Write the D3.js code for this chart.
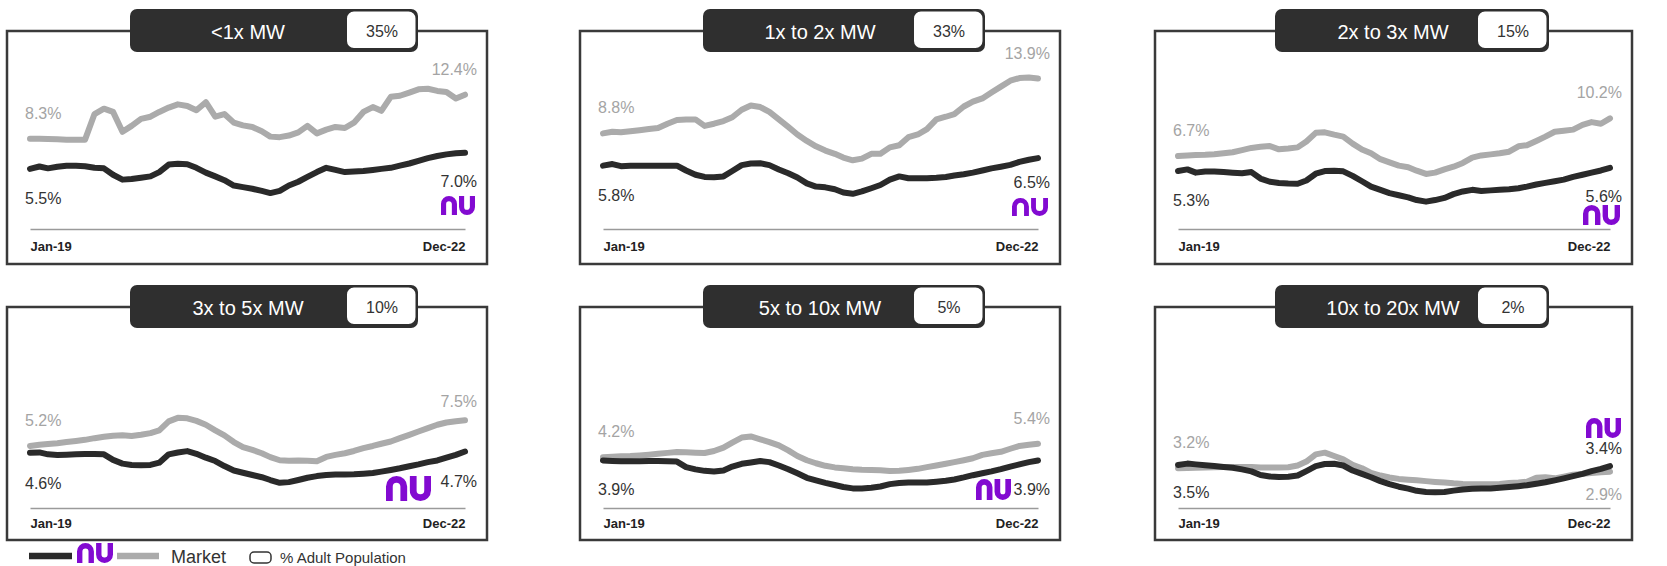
<!DOCTYPE html>
<html><head><meta charset="utf-8">
<script src="https://cdnjs.cloudflare.com/ajax/libs/d3/7.8.5/d3.min.js"></script>
<style>html,body{margin:0;padding:0;background:#fff;} svg{display:block;}</style>
</head><body><div id="chart"></div>
<script>
// ---------------- DATA ----------------
const months = d3.range(48).map(i => new Date(2019, i, 1)); // Jan-19 .. Dec-22
const tickLabels = ["Jan-19", "Dec-22"];
const panelTitles = ["<1x MW", "1x to 2x MW", "2x to 3x MW", "3x to 5x MW", "5x to 10x MW", "10x to 20x MW"];
const adultPopShare = ["35%", "33%", "15%", "10%", "5%", "2%"];

const nuUnder1 = [5.5,5.72,5.55,5.7,5.8,5.8,5.75,5.6,5.55,4.95, 4.5,4.55,4.68,4.8,5.2,5.9,5.97,5.93,5.6,5.15, 4.8,4.45,3.95,3.8,3.65,3.45,3.25,3.45,3.95,4.3, 4.75,5.2,5.6,5.4,5.2,5.25,5.3,5.4,5.5,5.6, 5.8,6.0,6.25,6.5,6.7,6.85,6.95,7.0];
const marketUnder1 = [8.3,8.3,8.28,8.25,8.22,8.22,8.22,10.6,11.1,10.8, 8.95,9.5,10.15,10.35,10.8,11.2,11.5,11.35,10.95,11.7, 10.35,10.6,9.8,9.55,9.4,9.0,8.5,8.45,8.6,8.9, 9.5,8.8,9.15,9.4,9.3,9.8,10.8,11.25,10.9,12.2, 12.3,12.6,12.9,12.95,12.75,12.65,12.05,12.4];

const nu1to2 = [5.8,5.95,5.75,5.8,5.78,5.78,5.78,5.8,5.8,5.35, 4.95,4.75,4.72,4.8,5.3,5.85,6.0,6.02,5.85,5.45, 5.1,4.7,4.15,3.85,3.78,3.6,3.3,3.18,3.4,3.7, 4.0,4.5,4.8,4.63,4.63,4.63,4.68,4.75,4.88,5.0, 5.15,5.35,5.55,5.7,5.87,6.15,6.35,6.5];
const market1to2 = [8.8,8.95,8.9,9.0,9.1,9.2,9.3,9.7,10.05,10.1, 10.1,9.5,9.7,9.95,10.3,11.0,11.4,11.25,10.8,10.1, 9.4,8.7,8.1,7.6,7.2,6.9,6.55,6.3,6.45,6.9, 6.9,7.5,7.7,8.45,8.7,9.2,10.1,10.35,10.6,11.3, 11.75,12.05,12.6,13.15,13.7,13.95,14.0,13.9];

const nu2to3 = [5.3,5.45,5.15,5.25,5.25,5.2,5.15,5.1,5.2,4.6, 4.3,4.18,4.13,4.12,4.42,5.05,5.3,5.33,5.27,4.85, 4.35,3.85,3.55,3.25,3.05,2.85,2.6,2.45,2.6,2.8, 3.15,3.4,3.55,3.45,3.5,3.55,3.6,3.7,3.85,4.05, 4.2,4.35,4.5,4.75,4.95,5.15,5.35,5.6];
const market2to3 = [6.7,6.75,6.8,6.82,6.86,6.95,7.05,7.25,7.45,7.55, 7.62,7.32,7.4,7.5,8.05,8.85,8.9,8.68,8.5,7.85, 7.3,6.95,6.4,6.1,5.8,5.65,5.33,5.03,5.15,5.45, 5.7,6.05,6.55,6.75,6.85,6.95,7.1,7.6,7.7,8.1, 8.5,8.95,9.05,9.15,9.6,9.85,9.7,10.2];

const nu3to5 = [4.6,4.62,4.45,4.4,4.42,4.45,4.48,4.48,4.45,3.95, 3.62,3.5,3.47,3.5,3.7,4.45,4.62,4.74,4.5,4.15, 3.85,3.4,3.0,2.8,2.6,2.4,2.15,1.9,1.96,2.15, 2.35,2.5,2.6,2.65,2.65,2.67,2.72,2.78,2.9,3.05, 3.2,3.38,3.55,3.75,3.9,4.15,4.4,4.7];
const market3to5 = [5.2,5.3,5.38,5.45,5.55,5.65,5.75,5.9,6.02,6.12, 6.15,6.1,6.2,6.35,6.6,7.4,7.72,7.68,7.45,7.1, 6.6,6.15,5.55,5.1,4.85,4.55,4.2,3.92,3.87,3.9, 3.88,3.83,4.22,4.4,4.55,4.75,5.0,5.2,5.4,5.6, 5.9,6.2,6.5,6.8,7.1,7.3,7.42,7.5];

const nu5to10 = [3.9,3.85,3.82,3.82,3.84,3.86,3.85,3.83,3.8,3.3, 3.1,2.97,2.91,3.0,3.35,3.6,3.72,3.86,3.75,3.45, 3.12,2.75,2.35,2.12,1.9,1.7,1.52,1.4,1.39,1.45, 1.57,1.78,1.88,1.92,1.92,1.93,2.0,2.08,2.2,2.38, 2.58,2.75,2.92,3.12,3.35,3.55,3.75,3.9];
const market5to10 = [4.2,4.24,4.27,4.3,4.35,4.42,4.5,4.58,4.65,4.63, 4.6,4.57,4.75,5.05,5.5,5.95,6.05,5.8,5.55,5.25, 4.8,4.3,3.92,3.65,3.42,3.28,3.2,3.12,3.07,3.05, 3.02,2.95,2.97,3.05,3.15,3.3,3.45,3.6,3.75,3.92, 4.1,4.4,4.55,4.68,4.95,5.2,5.3,5.4];

const nu10to20 = [3.5,3.62,3.55,3.48,3.4,3.32,3.25,3.1,2.92,2.6, 2.47,2.43,2.45,2.55,2.95,3.4,3.58,3.6,3.45,3.0, 2.7,2.4,2.05,1.78,1.55,1.38,1.18,1.08,1.06,1.08, 1.2,1.3,1.36,1.38,1.38,1.45,1.53,1.6,1.68,1.82, 1.95,2.12,2.3,2.5,2.7,2.95,3.15,3.4];
const market10to20 = [3.2,3.22,3.24,3.27,3.3,3.32,3.32,3.32,3.31,3.28, 3.26,3.26,3.3,3.45,3.8,4.45,4.6,4.3,4.0,3.5, 3.2,2.78,2.55,2.38,2.25,2.18,2.12,2.05,1.98,1.92, 1.85,1.8,1.77,1.76,1.76,1.8,1.88,1.93,2.0,2.35, 2.4,2.3,2.45,2.62,2.7,2.78,2.84,2.9];

const nuSeries = [nuUnder1, nu1to2, nu2to3, nu3to5, nu5to10, nu10to20];
const marketSeries = [marketUnder1, market1to2, market2to3, market3to5, market5to10, market10to20];

const legendLabels = ["Market", "% Adult Population"];

// ---------------- LAYOUT / STYLE ----------------
const W = 1667, H = 566;
const FONT = "'Liberation Sans', Arial, Helvetica, sans-serif";
const colLeft = [7, 580, 1155], colWidth = [480, 480, 477];
const rowTop = [31, 307], boxH = 233;
const titleRect = [[123, 288], [123, 282], [120, 274]];
const titleTextX = [241, 240, 238];
const pxPerPct = [10.75, 11.16];
const zeroOff = 197;
const axisOff = [198, 201], tickBaseOff = [220, 221];
const logoBox = [[434,165,34,19],[432,167,36,18],[428,174,37,20],[379,169,45,25],[396,172,35,21],[431,111,35,20]];
const labelOff = [
  {ms:-20, ns:35, me:-20, ne:34},
  {ms:-20, ns:35, me:-20, ne:30},
  {ms:-20, ns:35, me:-20, ne:34},
  {ms:-20, ns:36, me:-13, ne:35},
  {ms:-20, ns:35, me:-20, ne:35},
  {ms:-20, ns:33, me:28, ne:-12}
];
const C = {dark:"#2f2f2f", nu:"#2a2a2a", market:"#ababab", marketText:"#a4a4a4", text:"#333", purple:"#820ad1", box:"#3a3a3a", axis:"#9a9a9a"};

const svg = d3.select("#chart").append("svg").attr("width", W).attr("height", H)
  .style("font-family", FONT);

function drawNu(g, x, y, w, h) {
  const s = h * 0.27, gap = w * 0.06, lw = (w - gap) / 2;
  const rx = (lw - s) / 2, ry = Math.min(rx * 1.0, h * 0.42);
  const n = `M${x + s/2},${y + h} V${y + s/2 + ry} A${rx},${ry} 0 0 1 ${x + lw - s/2},${y + s/2 + ry} V${y + h}`;
  const x0 = x + w - lw;
  const u = `M${x0 + s/2},${y} V${y + h - s/2 - ry} A${rx},${ry} 0 0 0 ${x0 + lw - s/2},${y + h - s/2 - ry} V${y}`;
  g.append("path").attr("d", n + " " + u).attr("fill", "none")
    .attr("stroke", C.purple).attr("stroke-width", s).attr("stroke-linecap", "butt");
}

const fmt = v => d3.format(".1f")(v) + "%";

panelTitles.forEach((title, p) => {
  const col = p % 3, row = Math.floor(p / 3);
  const bx = colLeft[col], bw = colWidth[col], by = rowTop[row];
  const g = svg.append("g");
  const x0 = bx + 23, x1 = bx + bw - 22;
  const x = d3.scaleTime().domain([months[0], months[47]]).range([x0, x1]);
  const zeroY = by + zeroOff;
  const y = d3.scaleLinear().domain([0, 10]).range([zeroY, zeroY - 10 * pxPerPct[row]]);

  // box
  g.append("rect").attr("x", bx).attr("y", by).attr("width", bw).attr("height", boxH)
    .attr("fill", "none").attr("stroke", C.box).attr("stroke-width", 2.5);

  // axis
  const ax = g.append("g").attr("transform", `translate(0,${by + axisOff[row]})`)
    .call(d3.axisBottom(x).tickValues([months[0], months[47]])
      .tickFormat((d, i) => tickLabels[i]).tickSize(0).tickSizeOuter(0));
  ax.select(".domain").attr("stroke", C.axis).attr("stroke-width", 1.6);
  ax.selectAll(".tick text")
    .attr("y", tickBaseOff[row] - axisOff[row]).attr("dy", 0)
    .attr("font-family", FONT).attr("font-size", 13).attr("font-weight", "bold").attr("fill", "#222")
    .attr("text-anchor", (d, i) => i === 0 ? "start" : "end");

  // lines
  const line = d3.line().x((d, i) => x(months[i])).y(d => y(d)).curve(d3.curveLinear);
  g.append("path").datum(marketSeries[p]).attr("d", line).attr("fill", "none")
    .attr("stroke", C.market).attr("stroke-width", 6).attr("stroke-linejoin", "round").attr("stroke-linecap", "round");
  g.append("path").datum(nuSeries[p]).attr("d", line).attr("fill", "none")
    .attr("stroke", C.nu).attr("stroke-width", 6).attr("stroke-linejoin", "round").attr("stroke-linecap", "round");

  // value labels
  const mS = marketSeries[p][0], mE = marketSeries[p][47], nS = nuSeries[p][0], nE = nuSeries[p][47];
  const lo = labelOff[p];
  const lab = (txt, xx, yy, anchor, color) => g.append("text").attr("x", xx).attr("y", yy)
    .attr("text-anchor", anchor).attr("font-size", 16).attr("fill", color).text(txt);
  lab(fmt(mS), x0 - 5, y(mS) + lo.ms, "start", C.marketText);
  lab(fmt(nS), x0 - 5, y(nS) + lo.ns, "start", C.text);
  lab(fmt(mE), x1 + 12, y(mE) + lo.me, "end", C.marketText);
  lab(fmt(nE), x1 + 12, y(nE) + lo.ne, "end", C.text);

  // nu logo
  const lb = logoBox[p];
  drawNu(g, bx + lb[0], by + lb[1], lb[2], lb[3]);

  // title bar
  const tr = titleRect[col];
  const rxL = bx + tr[0], rW = tr[1], rY = by - 22, rH = 43;
  g.append("rect").attr("x", rxL).attr("y", rY).attr("width", rW).attr("height", rH)
    .attr("rx", 7).attr("fill", C.dark);
  g.append("rect").attr("x", rxL + rW - 72).attr("y", rY + 1.5).attr("width", 70.5).attr("height", rH - 4.5)
    .attr("rx", 8).attr("fill", "#fff").attr("stroke", C.dark).attr("stroke-width", 2);
  g.append("text").attr("x", bx + titleTextX[col]).attr("y", by + 8)
    .attr("text-anchor", "middle").attr("font-size", 20).attr("fill", "#fff").text(title);
  g.append("text").attr("x", rxL + rW - 36).attr("y", by + 6)
    .attr("text-anchor", "middle").attr("font-size", 16).attr("fill", C.text).text(adultPopShare[p]);
});

// legend
const lg = svg.append("g");
lg.append("line").attr("x1", 29).attr("x2", 72).attr("y1", 556).attr("y2", 556)
  .attr("stroke", C.nu).attr("stroke-width", 6.5);
drawNu(lg, 77, 543, 36, 20);
lg.append("line").attr("x1", 117).attr("x2", 159).attr("y1", 556).attr("y2", 556)
  .attr("stroke", C.market).attr("stroke-width", 6.5);
lg.append("text").attr("x", 171).attr("y", 563).attr("font-size", 18).attr("fill", C.text).text(legendLabels[0]);
lg.append("rect").attr("x", 250).attr("y", 552).attr("width", 21).attr("height", 11).attr("rx", 4)
  .attr("fill", "#fff").attr("stroke", C.text).attr("stroke-width", 1.5);
lg.append("text").attr("x", 280).attr("y", 563).attr("font-size", 15).attr("fill", C.text).text(legendLabels[1]);
</script>
</body></html>
